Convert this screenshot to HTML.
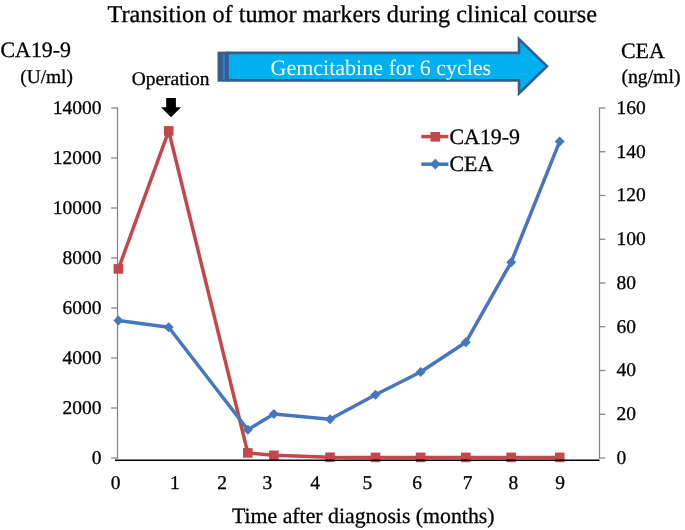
<!DOCTYPE html><html><head><meta charset="utf-8"><style>html,body{margin:0;padding:0;background:#fff;width:685px;height:530px;overflow:hidden}svg{display:block;will-change:transform}text{text-rendering:geometricPrecision}</style></head><body><svg width="685" height="530" viewBox="0 0 685 530">
<rect width="685" height="530" fill="#fff"/>
<g stroke="#828282" stroke-width="1.25" fill="none">
<line x1="117.5" y1="107.5" x2="117.5" y2="458.5"/>
<line x1="599.5" y1="107.5" x2="599.5" y2="458.5"/>
<line x1="111.2" y1="108" x2="117.5" y2="108"/>
<line x1="111.2" y1="158" x2="117.5" y2="158"/>
<line x1="111.2" y1="208" x2="117.5" y2="208"/>
<line x1="111.2" y1="258" x2="117.5" y2="258"/>
<line x1="111.2" y1="308" x2="117.5" y2="308"/>
<line x1="111.2" y1="358" x2="117.5" y2="358"/>
<line x1="111.2" y1="408" x2="117.5" y2="408"/>
<line x1="111.2" y1="458" x2="117.5" y2="458"/>
<line x1="599.5" y1="108.0" x2="605.3" y2="108.0"/>
<line x1="599.5" y1="151.75" x2="605.3" y2="151.75"/>
<line x1="599.5" y1="195.5" x2="605.3" y2="195.5"/>
<line x1="599.5" y1="239.25" x2="605.3" y2="239.25"/>
<line x1="599.5" y1="283.0" x2="605.3" y2="283.0"/>
<line x1="599.5" y1="326.75" x2="605.3" y2="326.75"/>
<line x1="599.5" y1="370.5" x2="605.3" y2="370.5"/>
<line x1="599.5" y1="414.25" x2="605.3" y2="414.25"/>
<line x1="599.5" y1="458.0" x2="605.3" y2="458.0"/>
</g>
<polyline points="118.4,268.9 168.7,130.9 247.8,452.9 273.9,455.3 330,457.3 375.5,457.4 420.6,457.4 465.8,457.4 511.2,457.4 559.7,457.4" fill="none" stroke="#C4474A" stroke-width="3.5" stroke-linejoin="round"/>
<rect x="113.60000000000001" y="264.09999999999997" width="9.6" height="9.6" fill="#C4474A"/>
<rect x="163.89999999999998" y="126.10000000000001" width="9.6" height="9.6" fill="#C4474A"/>
<rect x="243.0" y="448.09999999999997" width="9.6" height="9.6" fill="#C4474A"/>
<rect x="269.09999999999997" y="450.5" width="9.6" height="9.6" fill="#C4474A"/>
<rect x="325.2" y="452.5" width="9.6" height="9.6" fill="#C4474A"/>
<rect x="370.7" y="452.59999999999997" width="9.6" height="9.6" fill="#C4474A"/>
<rect x="415.8" y="452.59999999999997" width="9.6" height="9.6" fill="#C4474A"/>
<rect x="461.0" y="452.59999999999997" width="9.6" height="9.6" fill="#C4474A"/>
<rect x="506.4" y="452.59999999999997" width="9.6" height="9.6" fill="#C4474A"/>
<rect x="554.9000000000001" y="452.59999999999997" width="9.6" height="9.6" fill="#C4474A"/>
<polyline points="118.4,320.5 168.7,327.3 247.8,429.7 273.9,414.0 330,419.2 375.5,394.8 420.6,372.0 465.8,342.3 511.2,262.2 559.7,141.4" fill="none" stroke="#4676BE" stroke-width="3.5" stroke-linejoin="round"/>
<path d="M118.4 315.5L123.4 320.5L118.4 325.5L113.4 320.5Z" fill="#4676BE"/>
<path d="M168.7 322.3L173.7 327.3L168.7 332.3L163.7 327.3Z" fill="#4676BE"/>
<path d="M247.8 424.7L252.8 429.7L247.8 434.7L242.8 429.7Z" fill="#4676BE"/>
<path d="M273.9 409.0L278.9 414.0L273.9 419.0L268.9 414.0Z" fill="#4676BE"/>
<path d="M330 414.2L335.0 419.2L330 424.2L325.0 419.2Z" fill="#4676BE"/>
<path d="M375.5 389.8L380.5 394.8L375.5 399.8L370.5 394.8Z" fill="#4676BE"/>
<path d="M420.6 367.0L425.6 372.0L420.6 377.0L415.6 372.0Z" fill="#4676BE"/>
<path d="M465.8 337.3L470.8 342.3L465.8 347.3L460.8 342.3Z" fill="#4676BE"/>
<path d="M511.2 257.2L516.2 262.2L511.2 267.2L506.2 262.2Z" fill="#4676BE"/>
<path d="M559.7 136.4L564.7 141.4L559.7 146.4L554.7 141.4Z" fill="#4676BE"/>
<line x1="115" y1="460.3" x2="599.5" y2="460.3" stroke="#000" stroke-width="1.6"/>
<g font-family="Liberation Serif" fill="#000" stroke="#000" stroke-width="0.3">
<text x="107.5" y="21.9" font-size="24.25">Transition of tumor markers during clinical course</text>
<text x="0.5" y="57.4" font-size="21.9">CA19-9</text>
<text x="20.2" y="83.3" font-size="19.4">(U/ml)</text>
<text x="621" y="57.9" font-size="21.9">CEA</text>
<text x="621.4" y="83.2" font-size="19.7">(ng/ml)</text>
<text x="131.7" y="85" font-size="19.45">Operation</text>
<text x="101.5" y="114.3" font-size="19.5" text-anchor="end">14000</text>
<text x="101.5" y="164.3" font-size="19.5" text-anchor="end">12000</text>
<text x="101.5" y="214.3" font-size="19.5" text-anchor="end">10000</text>
<text x="101.5" y="264.3" font-size="19.5" text-anchor="end">8000</text>
<text x="101.5" y="314.3" font-size="19.5" text-anchor="end">6000</text>
<text x="101.5" y="364.3" font-size="19.5" text-anchor="end">4000</text>
<text x="101.5" y="414.3" font-size="19.5" text-anchor="end">2000</text>
<text x="101.5" y="464.3" font-size="19.5" text-anchor="end">0</text>
<text x="616.4" y="113.80" font-size="19.5">160</text>
<text x="616.4" y="157.55" font-size="19.5">140</text>
<text x="616.4" y="201.30" font-size="19.5">120</text>
<text x="616.4" y="245.05" font-size="19.5">100</text>
<text x="616.4" y="288.80" font-size="19.5">80</text>
<text x="616.4" y="332.55" font-size="19.5">60</text>
<text x="616.4" y="376.30" font-size="19.5">40</text>
<text x="616.4" y="420.05" font-size="19.5">20</text>
<text x="616.4" y="463.80" font-size="19.5">0</text>
<text x="115.5" y="488.6" font-size="19.5" text-anchor="middle">0</text>
<text x="174.9" y="488.6" font-size="19.5" text-anchor="middle">1</text>
<text x="222.2" y="488.6" font-size="19.5" text-anchor="middle">2</text>
<text x="267.3" y="488.6" font-size="19.5" text-anchor="middle">3</text>
<text x="315.1" y="488.6" font-size="19.5" text-anchor="middle">4</text>
<text x="367.4" y="488.6" font-size="19.5" text-anchor="middle">5</text>
<text x="417.2" y="488.6" font-size="19.5" text-anchor="middle">6</text>
<text x="467.7" y="488.6" font-size="19.5" text-anchor="middle">7</text>
<text x="513.3" y="488.6" font-size="19.5" text-anchor="middle">8</text>
<text x="560.2" y="488.6" font-size="19.5" text-anchor="middle">9</text>
<text x="232" y="522.5" font-size="21.8">Time after diagnosis (months)</text>
<line x1="421.3" y1="136.6" x2="448.4" y2="136.6" stroke="#C4474A" stroke-width="3.5"/>
<rect x="430.5" y="132" width="9.6" height="9.6" fill="#C4474A" stroke="none"/>
<line x1="421.3" y1="164.2" x2="448.4" y2="164.2" stroke="#4676BE" stroke-width="3.5"/>
<path d="M435.3 158.8L440.6 164.2L435.3 169.6L430 164.2Z" fill="#4676BE" stroke="none"/>
<text x="449.5" y="144.4" font-size="21.9">CA19-9</text>
<text x="449.5" y="171" font-size="21.9">CEA</text>
</g>
<path d="M166.2 97.9H175.9V107.2H181L171 117.2L161 107.2H166.2Z" fill="#000"/>
<path d="M227.5 52.9H519V39L547 66.2L519 93.4V80.4H227.5Z" fill="#00B0F0" stroke="#3A5D8E" stroke-width="2.6" stroke-linejoin="miter"/>
<rect x="217.5" y="51.6" width="9.8" height="30.1" fill="#3A5D8E"/>
<rect x="222.6" y="54.1" width="2.3" height="25.2" fill="#2F7FC2"/>
<text x="270.6" y="75.1" font-family="Liberation Serif" font-size="22" fill="#fff">Gemcitabine for 6 cycles</text>
</svg></body></html>
